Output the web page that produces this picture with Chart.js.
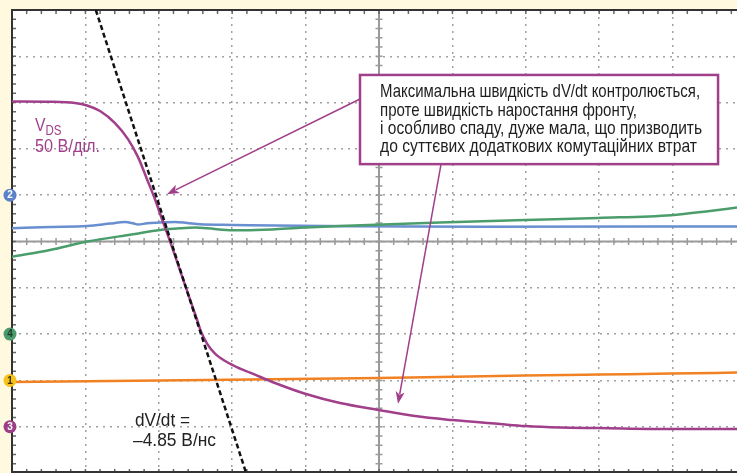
<!DOCTYPE html>
<html>
<head>
<meta charset="utf-8">
<title>VDS fall, dV/dt</title>
<script src="https://cdn.jsdelivr.net/npm/chart.js"></script>
<style>
  html, body { margin: 0; padding: 0; background: #fffadf; overflow: hidden; }
  #wrap { width: 737px; height: 473px; }
</style>
</head>
<body>
<div id="wrap"><canvas id="scope" width="737" height="473"></canvas></div>
<script>
// all values in scope divisions: x 0..10 (picture is cut at ~9.88), y -5..+5
const xMax = 9.877;

const vdsX = [0, 0.518, 0.858, 1.022, 1.199, 1.403, 1.580, 1.717, 1.839, 1.948, 2.044, 2.153, 2.289, 2.425, 2.520,
              2.575, 2.657, 2.766, 2.916, 3.106, 3.243, 3.583, 4.005, 4.469, 5.0, 5.490, 5.995, 6.649, 6.989, 7.466, 7.984, 8.978, 9.877];
const vdsY = [3.022, 3.017, 2.991, 2.937, 2.818, 2.558, 2.212, 1.823, 1.346, 0.913, 0.481, 0.004, -0.623, -1.251, -1.684,
              -1.944, -2.204, -2.420, -2.593, -2.745, -2.831, -3.056, -3.294, -3.489, -3.641, -3.771, -3.857, -3.944, -3.987, -4.019, -4.030, -4.052, -4.052];

const ch2X = [0, 0.518, 1.022, 1.335, 1.540, 1.649, 1.717, 1.839, 2.016, 2.221, 2.384, 2.561, 3.011, 3.243, 4.605, 6.376, 9.877];
const ch2Y = [0.286, 0.314, 0.335, 0.387, 0.422, 0.394, 0.366, 0.394, 0.409, 0.422, 0.400, 0.372, 0.357, 0.351, 0.329, 0.318, 0.325];

const ch4X = [0, 0.518, 1.022, 1.649, 2.016, 2.289, 2.493, 2.657, 3.011, 3.243, 3.924, 4.469, 5.831, 6.989, 7.984, 8.978, 9.510, 9.877];
const ch4Y = [-0.328, -0.184, -0.002, 0.156, 0.249, 0.286, 0.301, 0.286, 0.242, 0.242, 0.297, 0.333, 0.409, 0.465, 0.509, 0.567, 0.660, 0.734];

const ch1X = [0, 2.016, 3.243, 5.0, 6.989, 7.984, 8.978, 9.877];
const ch1Y = [-3.032, -3.004, -2.983, -2.946, -2.896, -2.874, -2.853, -2.831];

// tangent for dV/dt = -4.85 V/ns
const slopeX = [1.142, 3.190];
const slopeY = [5, -5];

// channel ground markers on the left edge
const markerNames = ['2', '4', '1', '3'];
const markerLevels = [1, -2, -3, -4];
const markerFill = ['#5b82c9', '#4b9a6b', '#f7c21a', '#9e3d88'];
const markerText = ['#ffffff', '#1e3a28', '#3a3000', '#ffffff'];

const noteLines = [
  'Максимальна швидкість dV/dt контролюється,',
  'проте швидкість наростання фронту,',
  'і особливо спаду, дуже мала, що призводить',
  'до суттєвих додаткових комутаційних втрат'
];
const noteWidths = [320, 257, 322, 317];

const PURPLE = '#a13f8b';
const FONT = "'Liberation Sans', Arial, sans-serif";

function pts(xs, ys) {
  return xs.map((x, i) => ({ x: x, y: ys[i] }));
}

function fitText(ctx, str, x, y, size, width, color) {
  ctx.save();
  ctx.font = size + 'px ' + FONT;
  const w = ctx.measureText(str).width;
  ctx.translate(x, y);
  if (width) ctx.scale(width / w, 1);
  ctx.fillStyle = color;
  ctx.textBaseline = 'alphabetic';
  ctx.fillText(str, 0, 0);
  ctx.restore();
  return width || w;
}

function arrow(ctx, x1, y1, x2, y2) {
  const a = Math.atan2(y2 - y1, x2 - x1);
  const len = 12, half = 4.5;
  ctx.strokeStyle = PURPLE;
  ctx.fillStyle = PURPLE;
  ctx.lineWidth = 1.5;
  ctx.beginPath();
  ctx.moveTo(x1, y1);
  ctx.lineTo(x2 - Math.cos(a) * len * 0.8, y2 - Math.sin(a) * len * 0.8);
  ctx.stroke();
  ctx.beginPath();
  ctx.moveTo(x2, y2);
  ctx.lineTo(x2 - Math.cos(a) * len - Math.sin(a) * half, y2 - Math.sin(a) * len + Math.cos(a) * half);
  ctx.lineTo(x2 - Math.cos(a) * len * 0.75, y2 - Math.sin(a) * len * 0.75);
  ctx.lineTo(x2 - Math.cos(a) * len + Math.sin(a) * half, y2 - Math.sin(a) * len - Math.cos(a) * half);
  ctx.closePath();
  ctx.fill();
}

const scopeDecor = {
  id: 'scopeDecor',
  beforeDraw(chart) {
    const { ctx, chartArea: a } = chart;
    ctx.save();
    ctx.fillStyle = '#fffadf';
    ctx.fillRect(0, 0, chart.width, chart.height);
    ctx.fillStyle = '#ffffff';
    ctx.fillRect(a.left, a.top, a.right - a.left, a.bottom - a.top);
    ctx.restore();
  },
  beforeDatasetsDraw(chart) {
    const { ctx, chartArea: a, scales: { x, y } } = chart;
    const cx = x.getPixelForValue(5), cy = y.getPixelForValue(0);
    ctx.save();
    // centre axes
    ctx.strokeStyle = '#9a9a9a';
    ctx.lineWidth = 2;
    ctx.beginPath();
    ctx.moveTo(cx, a.top); ctx.lineTo(cx, a.bottom);
    ctx.moveTo(a.left, cy); ctx.lineTo(a.right, cy);
    ctx.stroke();
    ctx.lineWidth = 1.5;
    ctx.beginPath();
    for (let v = 0; v <= 10.001; v += 0.2) {
      const px = x.getPixelForValue(v);
      ctx.moveTo(px, cy - 3.5); ctx.lineTo(px, cy + 3.5);
    }
    for (let v = -5; v <= 5.001; v += 0.2) {
      const py = y.getPixelForValue(v);
      ctx.moveTo(cx - 3.5, py); ctx.lineTo(cx + 3.5, py);
    }
    ctx.stroke();
    // ticks on the frame
    ctx.strokeStyle = '#666';
    ctx.beginPath();
    for (let v = 0.2; v <= 10.001; v += 0.2) {
      const px = x.getPixelForValue(v);
      ctx.moveTo(px, a.top); ctx.lineTo(px, a.top + 4);
      ctx.moveTo(px, a.bottom); ctx.lineTo(px, a.bottom - 4);
    }
    for (let v = -5; v <= 5.001; v += 0.2) {
      const py = y.getPixelForValue(v);
      ctx.moveTo(a.left, py); ctx.lineTo(a.left + 4, py);
    }
    ctx.stroke();
    // frame
    ctx.strokeStyle = '#333';
    ctx.lineWidth = 2;
    ctx.beginPath();
    ctx.moveTo(a.right, a.top); ctx.lineTo(a.left, a.top);
    ctx.lineTo(a.left, a.bottom - 1); ctx.lineTo(a.right, a.bottom - 1);
    ctx.stroke();
    ctx.restore();
  },
  afterDatasetsDraw(chart) {
    const { ctx, scales: { x, y } } = chart;
    const X = v => x.getPixelForValue(v), Y = v => y.getPixelForValue(v);
    ctx.save();

    // channel markers
    markerNames.forEach((n, i) => {
      const py = Y(markerLevels[i]);
      ctx.beginPath();
      ctx.arc(X(0) - 2, py, 6.5, 0, Math.PI * 2);
      ctx.fillStyle = markerFill[i];
      ctx.fill();
      ctx.fillStyle = markerText[i];
      ctx.font = 'bold 10px ' + FONT;
      ctx.textAlign = 'center';
      ctx.textBaseline = 'middle';
      ctx.fillText(n, X(0) - 2, py + 0.5);
    });
    ctx.textAlign = 'left';

    // VDS label
    fitText(ctx, 'V', X(0.313), Y(2.385), 18.5, 10.5, PURPLE);
    fitText(ctx, 'DS', X(0.313) + 10.5, Y(2.385) + 4, 14, 16, PURPLE);
    fitText(ctx, '50 В/діл.', X(0.313), Y(1.931), 18.5, 65, PURPLE);

    // dV/dt label
    fitText(ctx, 'dV/dt =', X(1.676), Y(-3.978), 18.5, 55, '#222');
    fitText(ctx, '–4.85 В/нс', X(1.649), Y(-4.411), 18.5, 83, '#222');

    // arrows
    arrow(ctx, X(4.741), Y(3.078), X(2.112), Y(1.022));
    arrow(ctx, X(5.845), Y(1.671), X(5.259), Y(-3.502));

    // note box
    const bx = X(4.741), by = Y(3.597), bw = X(9.619) - bx, bh = Y(1.671) - by;
    ctx.fillStyle = '#ffffff';
    ctx.fillRect(bx, by, bw, bh);
    ctx.strokeStyle = PURPLE;
    ctx.lineWidth = 2.5;
    ctx.strokeRect(bx, by, bw, bh);
    const base = [3.121, 2.716, 2.320, 1.924];
    noteLines.forEach((t, i) => fitText(ctx, t, X(5.014), Y(base[i]), 18.5, noteWidths[i], '#1e1e1e'));

    ctx.restore();
  }
};

const line = (data, color, extra) => Object.assign({
  data: data, borderColor: color, borderWidth: 2.5, pointRadius: 0,
  fill: false, cubicInterpolationMode: 'monotone'
}, extra || {});

new Chart(document.getElementById('scope'), {
  type: 'line',
  data: {
    datasets: [
      line(pts(slopeX, slopeY), '#111', { borderDash: [5, 3], borderWidth: 2.5, cubicInterpolationMode: 'default' }),
      line(pts(vdsX, vdsY), PURPLE),
      line(pts(ch1X, ch1Y), '#f08223'),
      line(pts(ch4X, ch4Y), '#4b9e6c'),
      line(pts(ch2X, ch2Y), '#6a8fd0')
    ]
  },
  options: {
    responsive: false,
    animation: false,
    devicePixelRatio: 1,
    layout: { padding: { left: 12, top: 10, right: 0, bottom: 0 } },
    plugins: { legend: { display: false }, tooltip: { enabled: false } },
    scales: {
      x: {
        type: 'linear', min: 0, max: xMax,
        ticks: { display: false, stepSize: 1, includeBounds: false },
        grid: { color: '#a0a0a0', lineWidth: 1.5, drawTicks: false },
        border: { display: false, dash: [2, 5] }
      },
      y: {
        type: 'linear', min: -5, max: 5,
        ticks: { display: false, stepSize: 1 },
        grid: { color: '#a0a0a0', lineWidth: 1.5, drawTicks: false },
        border: { display: false, dash: [2, 5] }
      }
    }
  },
  plugins: [scopeDecor]
});
</script>
</body>
</html>
